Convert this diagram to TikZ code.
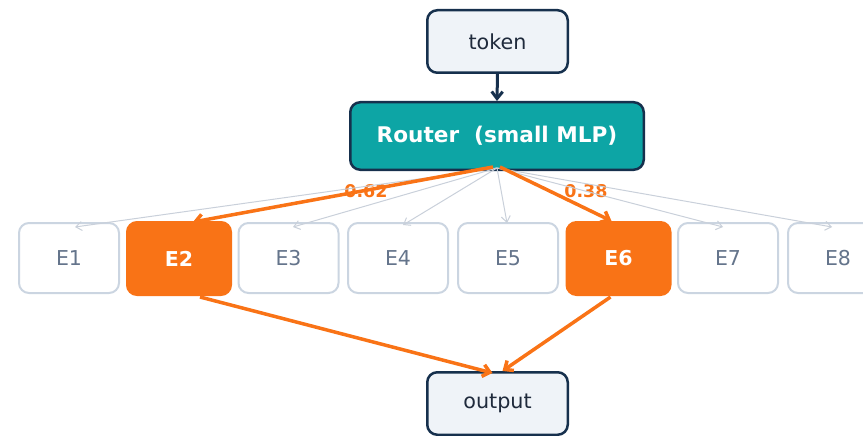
\documentclass[tikz,border=0pt]{standalone}
\usepackage{fontspec}
\setmainfont{DejaVu Sans}
\usetikzlibrary{arrows.meta}

\definecolor{navy}{HTML}{16304D}
\definecolor{ink}{HTML}{1F2A3C}
\definecolor{paleFill}{HTML}{EFF3F8}
\definecolor{routerTeal}{HTML}{0DA5A5}
\definecolor{hotOrange}{HTML}{F97316}
\definecolor{slateText}{HTML}{64748B}
\definecolor{edgeGray}{HTML}{CBD5E1}
\definecolor{wireGray}{HTML}{C9D0DA}

\tikzset{
  iobox/.style={draw=navy, line width=2.5pt, fill=paleFill, rounded corners=10pt,
    minimum width=140.5pt, minimum height=62.5pt, inner sep=0pt, text=ink,
    font=\fontsize{20.7}{24}\selectfont},
  routerbox/.style={draw=navy, line width=2.5pt, fill=routerTeal, rounded corners=10pt,
    minimum width=293.5pt, minimum height=67.5pt, inner sep=0pt, text=white,
    font=\fontsize{21.6}{25}\selectfont\bfseries},
  expert/.style={draw=edgeGray, line width=2pt, fill=white, rounded corners=10pt,
    minimum width=100pt, minimum height=70pt, inner sep=0pt, text=slateText,
    font=\fontsize{20.5}{24}\selectfont},
  chosen/.style={draw=hotOrange, line width=2pt, fill=hotOrange, rounded corners=10pt,
    minimum width=104pt, minimum height=73pt, inner sep=0pt, text=white,
    font=\fontsize{20.5}{24}\selectfont\bfseries},
  feed/.style={draw=navy, line width=3pt, -{Straight Barb[length=7pt,width=11pt]}},
  idle/.style={draw=wireGray, line width=1pt, -{Straight Barb[length=6pt,width=9pt]}},
  hot/.style={draw=hotOrange, line width=3.5pt, -{Straight Barb[length=7pt,width=12pt]}},
  weight/.style={text=hotOrange, font=\fontsize{17.5}{20}\selectfont\bfseries, inner sep=0pt},
}

\begin{document}
\begin{tikzpicture}[x=1pt, y=-1pt]
  \useasboundingbox (0,0) rectangle (863,436);
  \clip (0,0) rectangle (863,436);

  % input, router and output
  \node[iobox] (token) at (497.5,41.5) {token};
  \node[routerbox] (router) at (497,136) {Router\ \ (small MLP)};
  \node[iobox] (output) at (497.5,403.5) {output};

  % experts
  \node[expert] (E1) at (69,258) {E1};
  \node[chosen] (E2) at (179,258.5) {E2};
  \node[expert] (E3) at (288.5,258) {E3};
  \node[expert] (E4) at (398,258) {E4};
  \node[expert] (E5) at (508,258) {E5};
  \node[chosen] (E6) at (618.5,258.5) {E6};
  \node[expert] (E7) at (728,258) {E7};
  \node[expert] (E8) at (838,258) {E8};

  % gate weights
  \node[weight] (w62) at (366,191) {0.62};
  \node[weight] (w38) at (586,191) {0.38};

  % routing origin on the router's lower edge
  \coordinate (fan) at (497,168);
  \coordinate (fanL) at (493,167);
  \coordinate (fanR) at (500,167);

  \draw[feed] (token.south) -- (router.north);

  % unselected experts
  \draw[idle] (fan) -- ([xshift=6pt,yshift=-5pt]E1.north);
  \draw[idle] (fan) -- ([xshift=4.5pt,yshift=-5pt]E3.north);
  \draw[idle] (fan) -- ([xshift=5pt,yshift=-3pt]E4.north);
  \draw[idle] (fan) -- ([xshift=-1pt,yshift=-1pt]E5.north);
  \draw[idle] (fan) -- ([xshift=-5pt,yshift=-5pt]E7.north);
  \draw[idle] (fan) -- ([xshift=-6pt,yshift=-5pt]E8.north);

  % selected experts
  \draw[hot] (fanL) -- ([xshift=14pt,yshift=-1pt]E2.north);
  \draw[hot] (fanR) -- ([xshift=-7pt]E6.north);
  \draw[hot] ([xshift=21pt,yshift=-1pt]E2.south) -- ([xshift=-5pt,yshift=-2pt]output.north);
  \draw[hot] ([xshift=-8pt,yshift=-1pt]E6.south) -- ([xshift=5pt]output.north);
\end{tikzpicture}
\end{document}
